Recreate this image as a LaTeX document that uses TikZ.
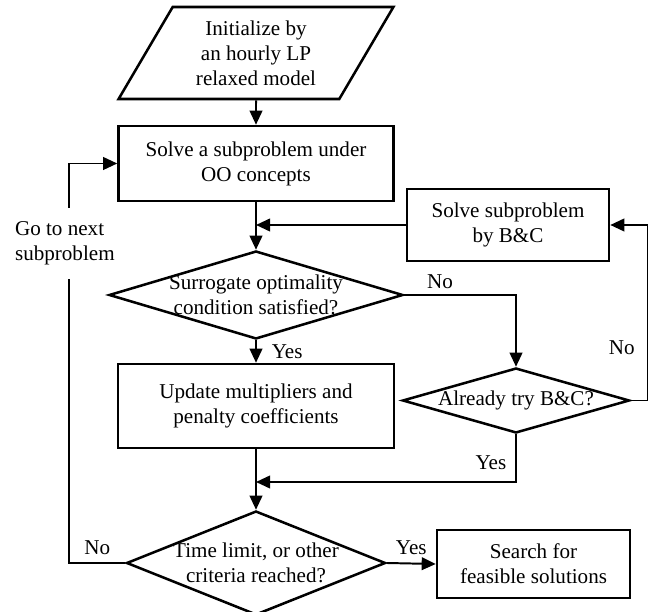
\documentclass[tikz,border=0pt]{standalone}
\usepackage{fontspec}
\setmainfont{Liberation Serif}
\usetikzlibrary{arrows.meta,positioning,shapes.geometric}

\begin{document}
\begin{tikzpicture}[>={Triangle[length=10pt,width=9pt]},
	font=\fontsize{15pt}{17.8pt}\selectfont,
	box/.style={draw, line width=1.8pt, align=center, inner sep=0pt},
	proc/.style={box, rectangle},
	decide/.style={box, diamond, shape aspect=3, inner xsep=-1cm},
	io/.style={box, trapezium, trapezium left angle=59, trapezium right angle=121, trapezium stretches=true},
	flow/.style={->, line width=1.4pt},
	lbl/.style={inner sep=2pt}]
	\useasboundingbox (0,0) rectangle (16.2,15.275);

	% Stappen
	\node[io, minimum width=6.875cm, minimum height=2.3cm] (init) at (6.4,13.95) {Initialize by\\an hourly LP\\relaxed model};
	\node[proc, minimum width=6.875cm, minimum height=1.875cm] (solve) at (6.4,11.1875) {Solve a subproblem under\\OO concepts};
	\node[proc, minimum width=5.05cm, minimum height=1.8cm] (bc) at (12.7,9.65) {Solve subproblem\\by B\&C};
	\node[decide, minimum width=7.35cm, minimum height=2.2cm] (cond) at (6.4,7.9) {Surrogate optimality\\condition satisfied?};
	\node[proc, minimum width=6.9cm, minimum height=2.1cm] (update) at (6.4,5.125) {Update multipliers and\\penalty coefficients};
	\node[decide, minimum width=5.675cm, minimum height=1.625cm] (tried) at (12.9,5.2625) {Already try B\&C?};
	\node[decide, minimum width=6.475cm, minimum height=2.6cm] (stop) at (6.4,1.2) {Time limit, or other\\criteria reached?};
	\node[proc, minimum width=4.825cm, minimum height=1.7cm] (search) at (13.3375,1.175) {Search for\\feasible solutions};
	\coordinate (join) at (6.4,3.225);

	% Pijlen
	\draw[flow] (init.south) -- (solve.north);
	\draw[flow] (solve.south) -- (cond.north);
	\draw[flow] (bc.west) -- (bc.west -| solve.south);
	\draw[flow] (cond.south) -- node[lbl, right=3mm] {Yes} (update.north);
	\draw[flow] (cond.east) -| node[lbl, pos=0.16, above=0.5mm] {No} (tried.north);
	\draw[flow] (tried.east) -- ++(0.44,0) |- node[lbl, pos=0.15, left=2.5mm] {No} (bc.east);
	\draw[flow] (tried.south) |- node[lbl, pos=0.3, left=1.5mm] {Yes} (join);
	\draw[flow] (update.south) -- (stop.north);
	\draw[flow] (stop.east) -- node[lbl, above=1.2mm] {Yes} (search.west);
	\draw[flow] (stop.west) -- node[lbl, above=1.2mm] {No} ++(-1.4,0) |- (solve.west);

	% Terugkoppeling
	\node[lbl, fill=white, align=left, anchor=west, minimum height=1.775cm] (gonext) at (0.3,9.1875) {Go to next\\subproblem};
\end{tikzpicture}
\end{document}
